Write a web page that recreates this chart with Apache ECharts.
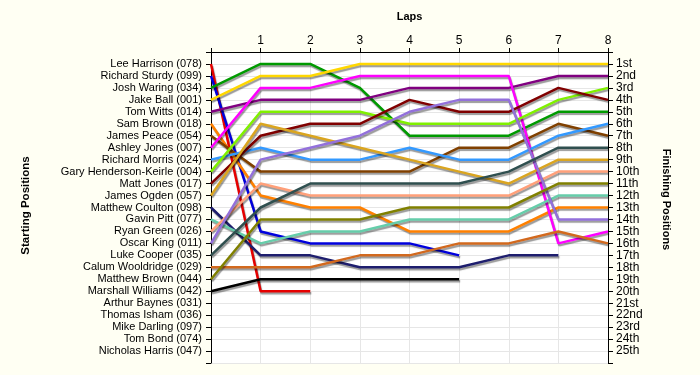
<!DOCTYPE html>
<html><head><meta charset="utf-8">
<script src="https://cdn.jsdelivr.net/npm/echarts@6/dist/echarts.min.js"></script>
<style>html,body{margin:0;padding:0;background:#fffff3;}#c{width:700px;height:375px;}</style>
</head><body><div id="c"></div>
<script>
const startNames = ["Lee Harrison (078)","Richard Sturdy (099)","Josh Waring (034)","Jake Ball (001)","Tom Witts (014)","Sam Brown (018)","James Peace (054)","Ashley Jones (007)","Richard Morris (024)","Gary Henderson-Keirle (004)","Matt Jones (017)","James Ogden (057)","Matthew Coulton (098)","Gavin Pitt (077)","Ryan Green (026)","Oscar King (011)","Luke Cooper (035)","Calum Wooldridge (029)","Matthew Brown (044)","Marshall Williams (042)","Arthur Baynes (031)","Thomas Isham (036)","Mike Darling (097)","Tom Bond (074)","Nicholas Harris (047)"];
const finishLabels = ["1st","2nd","3rd","4th","5th","6th","7th","8th","9th","10th","11th","12th","13th","14th","15th","16th","17th","18th","19th","20th","21st","22nd","23rd","24th","25th"];
const lapLabels = ["","1","2","3","4","5","6","7","8"];
// positions per lap (index = lap number, lap 0 = grid position)
const posLeeHarrison      = [1,20,20];
const posRichardSturdy    = [2,15,16,16,16,17];
const posJoshWaring       = [3,1,1,3,7,7,7,5,5];
const posJakeBall         = [4,2,2,1,1,1,1,1,1];
const posTomWitts         = [5,4,4,4,3,3,3,2,2];
const posSamBrown         = [6,12,13,13,15,15,15,13,13];
const posJamesPeace       = [7,10,10,10,10,8,8,6,7];
const posAshleyJones      = [8,3,3,2,2,2,2,16,15];
const posRichardMorris    = [9,8,9,9,8,9,9,7,6];
const posGaryHK           = [10,5,5,5,6,6,6,4,3];
const posMattJones        = [11,7,6,6,4,5,5,3,4];
const posJamesOgden       = [12,6,7,8,9,10,11,9,9];
const posMatthewCoulton   = [13,17,17,18,18,18,17,17];
const posGavinPitt        = [14,16,15,15,14,14,14,12,12];
const posRyanGreen        = [15,11,12,12,12,12,12,10,10];
const posOscarKing        = [16,9,8,7,5,4,4,14,14];
const posLukeCooper       = [17,13,11,11,11,11,10,8,8];
const posCalumWooldridge  = [18,18,18,17,17,16,16,15,16];
const posMatthewBrown     = [19,14,14,14,13,13,13,11,11];
const posMarshallWilliams = [20,19,19,19,19,19];

const driverPositions = [posLeeHarrison,posRichardSturdy,posJoshWaring,posJakeBall,posTomWitts,posSamBrown,posJamesPeace,posAshleyJones,posRichardMorris,posGaryHK,posMattJones,posJamesOgden,posMatthewCoulton,posGavinPitt,posRyanGreen,posOscarKing,posLukeCooper,posCalumWooldridge,posMatthewBrown,posMarshallWilliams];
const colors = ['#e60000','#0000dd','#009a00','#ffd700','#800080','#ff8000','#804000','#ff00ff','#3399ff','#80f000','#800000','#daa520','#1e1e6e','#66cdaa','#ffa07a','#9370db','#2f4f4f','#d2691e','#808000','#000000'];

const font = 'Liberation Sans, Arial, sans-serif';
const series = driverPositions.map((arr, i) => ({
  type: 'line',
  name: startNames[i],
  data: arr.map((p, lap) => [lap, p]),
  symbol: 'none',
  xAxisIndex: 0, yAxisIndex: 0,
  lineStyle: {color: colors[i], width: 2.5, shadowColor: 'rgba(0,0,0,0.4)', shadowOffsetX: 1, shadowOffsetY: 2, shadowBlur: 1},
  itemStyle: {color: colors[i]},
  z: 2,
  silent: true,
  animation: false
}));

const chart = echarts.init(document.getElementById('c'), null, {renderer: 'canvas'});
chart.setOption({
  backgroundColor: '#fffff3',
  animation: false,
  grid: {left: 211, right: 92, top: 52, bottom: 12, show: true, backgroundColor: '#ffffff', borderWidth: 0},
  xAxis: {
    type: 'value', position: 'top', min: 0, max: 8, interval: 1,
    name: 'Laps', nameLocation: 'middle', nameGap: 30,
    nameTextStyle: {fontFamily: font, fontSize: 11, fontWeight: 'bold', color: '#000'},
    axisLine: {show: true, lineStyle: {color: '#000', width: 1}},
    axisTick: {show: true, length: 4, lineStyle: {color: '#000'}},
    axisLabel: {margin: 5, fontFamily: font, fontSize: 12, color: '#000', formatter: v => lapLabels[v] || ''},
    splitLine: {show: true, lineStyle: {color: '#e6e6e6', width: 1}}
  },
  yAxis: [{
    type: 'value', inverse: true, min: 0, max: 26, interval: 1, position: 'left',
    name: 'Starting Positions', nameLocation: 'middle', nameGap: 179, nameRotate: 90,
    nameTextStyle: {fontFamily: font, fontSize: 11.5, fontWeight: 'bold', color: '#000', padding: [0,0,0,4]},
    axisLine: {show: true, lineStyle: {color: '#000', width: 1}},
    axisTick: {show: true, length: 5, lineStyle: {color: '#000'}},
    axisLabel: {margin: 9, fontFamily: font, fontSize: 11, color: '#000', formatter: v => startNames[v-1] || ''},
    splitLine: {show: true, lineStyle: {color: '#e6e6e6', width: 1}}
  },{
    type: 'value', inverse: true, min: 0, max: 26, interval: 1, position: 'right',
    name: 'Finishing Positions', nameLocation: 'middle', nameGap: 53, nameRotate: -90,
    nameTextStyle: {fontFamily: font, fontSize: 11, fontWeight: 'bold', color: '#000', padding: [0,16,0,0]},
    axisLine: {show: true, lineStyle: {color: '#000', width: 1}},
    axisTick: {show: true, length: 5, lineStyle: {color: '#000'}},
    axisLabel: {margin: 8, fontFamily: font, fontSize: 12, color: '#000', formatter: v => finishLabels[v-1] || ''},
    splitLine: {show: false}
  }],
  series: series
});
</script></body></html>
